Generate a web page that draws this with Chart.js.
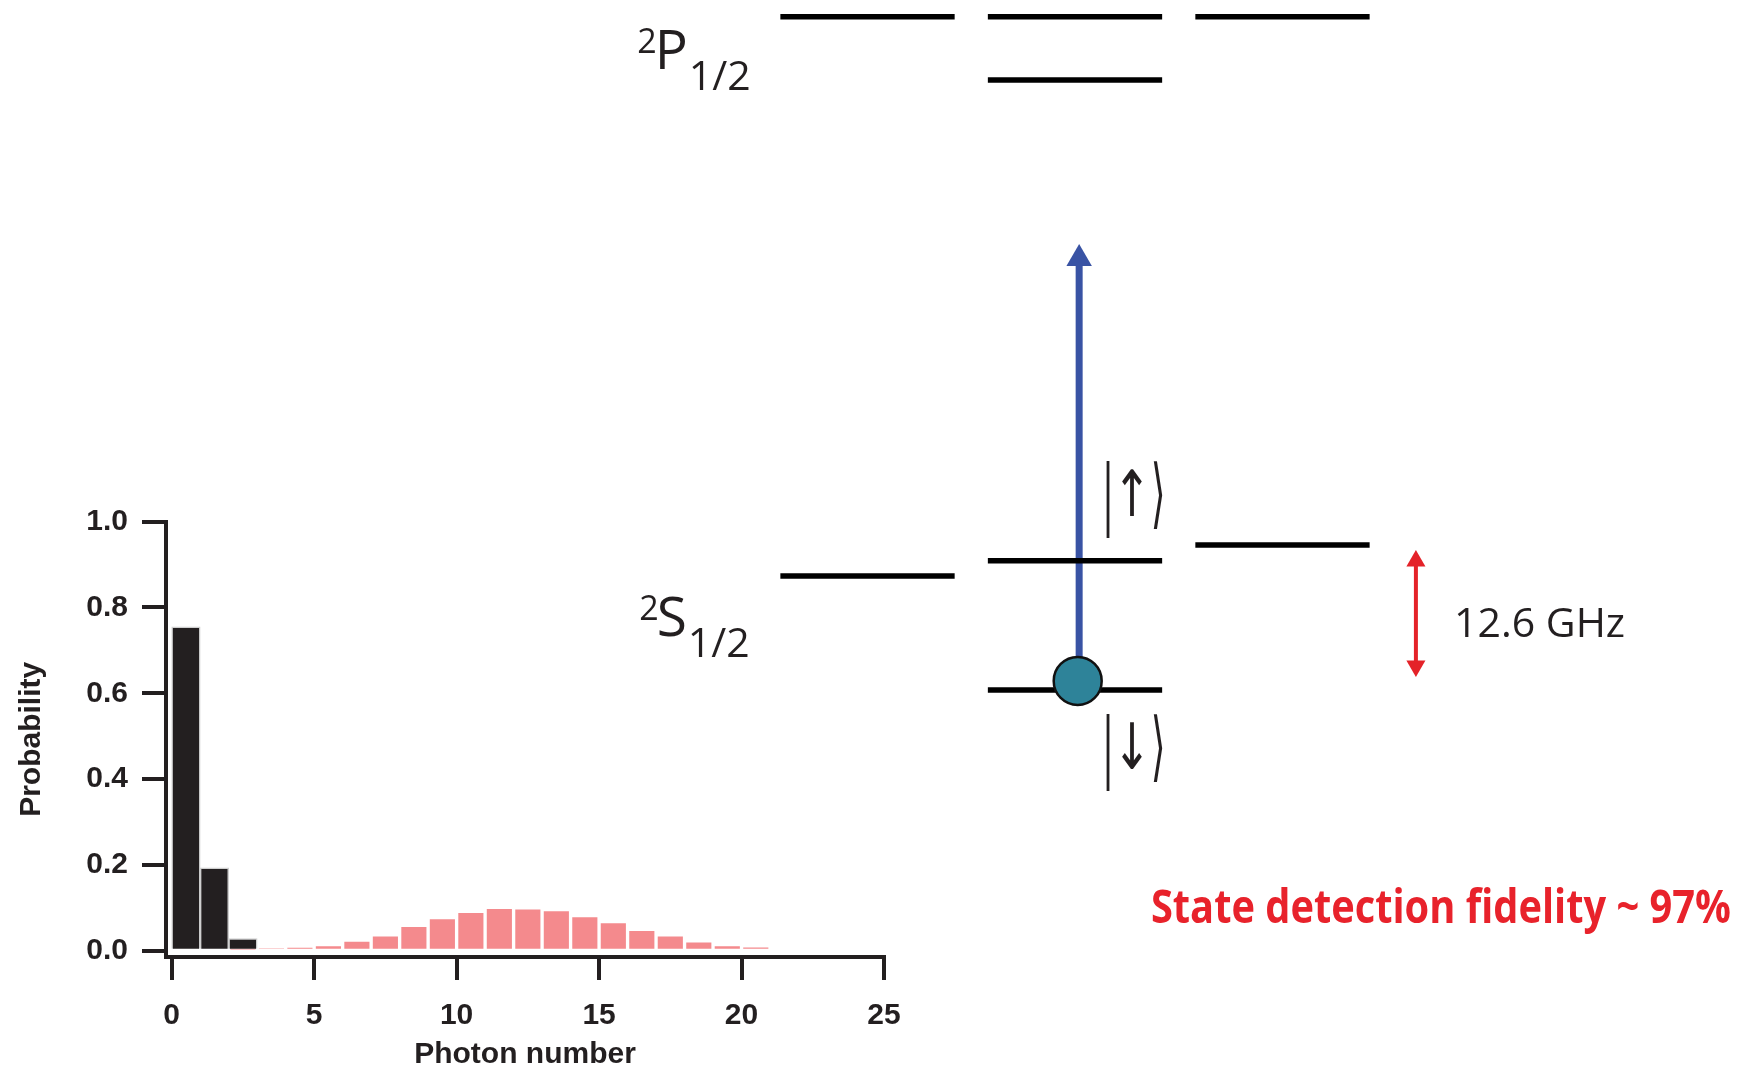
<!DOCTYPE html>
<html>
<head>
<meta charset="utf-8">
<script src="https://cdn.jsdelivr.net/npm/chart.js@4.4.1/dist/chart.umd.min.js"></script>
<style>
  html, body { margin: 0; padding: 0; background: #fff; overflow: hidden; }
  canvas { position: absolute; left: 0; top: 0; }
</style>
</head>
<body>
<canvas id="levels" width="1740" height="1070"></canvas>
<canvas id="histo" width="1740" height="1070"></canvas>
<script>
// Histogramme du nombre de photons (bins de largeur 1)
const darkBins = [0, 1, 2];
const darkProb = [0.755, 0.193, 0.028];
const brightBins = [2, 3, 4, 5, 6, 7, 8, 9, 10, 11, 12, 13, 14, 15, 16, 17, 18, 19, 20];
const brightProb = [0.002, 0.005, 0.008, 0.014, 0.025, 0.037, 0.059, 0.077, 0.092, 0.101,
                    0.100, 0.096, 0.082, 0.068, 0.050, 0.037, 0.023, 0.014, 0.009];
const xTicks = [0, 5, 10, 15, 20, 25];
const yTicks = [0, 0.2, 0.4, 0.6, 0.8, 1.0];

// Niveaux d'énergie (colonne des sous-niveaux, énergie en unités arbitraires)
const pCols = [-1, 0, 1, 0];
const pEnergy = [5.22, 5.22, 5.22, 4.729];
const sCols = [-1, 0, 1, 0];
const sEnergy = [0.884, 1.002, 1.124, 0];
const ionPos = { x: 0.013, y: 0.07 };
const pumpArrow = { x: 0.02, from: 0.07, to: 3.343 };
const splitArrow = { x: 1.643, from: 0.186, to: 1.0 };

const ink = '#231f20';
const axisFont = { family: 'Liberation Sans', size: 30, weight: 'bold' };

// Texte des termes, ex. ²S1/2
function termLabel(ctx, px, py, letter) {
    ctx.textAlign = 'left';
    ctx.textBaseline = 'alphabetic';
    ctx.font = '34px "Open Sans"';
    ctx.fillText('2', px, py - 16);
    let cx = px + ctx.measureText('2').width - 2;
    ctx.font = '55px "Open Sans"';
    ctx.fillText(letter, cx, py);
    cx += ctx.measureText(letter).width + 1;
    ctx.font = '41px "Open Sans"';
    ctx.fillText('1/2', cx, py + 21);
}

// |↑⟩ et |↓⟩ : chaque signe posé séparément
function ket(ctx, px, py, arrow) {
    const glyph = (ch, dx, size, sx) => {
        ctx.save();
        ctx.font = size + 'px "DejaVu Sans", "Noto Sans CJK SC"';
        ctx.textAlign = 'center';
        ctx.textBaseline = 'middle';
        ctx.translate(px + dx, py);
        ctx.scale(sx, 1);
        ctx.fillText(ch, 0, 0);
        ctx.restore();
    };
    glyph('|', 4, 76, 0.45);
    glyph(arrow, 28, 64, 0.72);
    glyph('\u27E9', 54, 76, 0.5);
}

const levelLabels = {
    id: 'levelLabels',
    afterDatasetsDraw(chart) {
        const { ctx, scales: { x, y } } = chart;
        ctx.save();
        ctx.fillStyle = ink;
        termLabel(ctx, x.getPixelForValue(-2.11), y.getPixelForValue(4.814), 'P');
        termLabel(ctx, x.getPixelForValue(-2.10), y.getPixelForValue(0.419), 'S');
        ket(ctx, x.getPixelForValue(0.14), y.getPixelForValue(1.481), '\u2191');
        ket(ctx, x.getPixelForValue(0.14), y.getPixelForValue(-0.481), '\u2193');

        ctx.textAlign = 'left';
        ctx.textBaseline = 'alphabetic';
        ctx.font = '41px "Open Sans"';
        ctx.fillText('12.6 GHz', x.getPixelForValue(1.827), y.getPixelForValue(0.411));

        // texte rouge, compressé pour tenir dans la largeur
        const left = x.getPixelForValue(0.366);
        const right = x.getPixelForValue(3.161);
        ctx.font = 'bold 46px "Open Sans"';
        ctx.fillStyle = '#e8222b';
        const txt = 'State detection fidelity ~ 97%';
        const sx = (right - left) / ctx.measureText(txt).width;
        ctx.translate(left, y.getPixelForValue(-1.806));
        ctx.scale(sx, 1);
        ctx.fillText(txt, 0, 0);
        ctx.restore();
    }
};

function levelLine(col, e) {
    return {
        type: 'line',
        data: [{ x: col - 0.42, y: e }, { x: col + 0.42, y: e }],
        showLine: true,
        borderColor: '#000',
        borderWidth: 5.5,
        borderCapStyle: 'butt',
        pointRadius: 0,
        order: 2
    };
}

const levelSets = [];
pCols.forEach((c, i) => levelSets.push(levelLine(c, pEnergy[i])));
sCols.forEach((c, i) => levelSets.push(levelLine(c, sEnergy[i])));

new Chart(document.getElementById('levels'), {
    type: 'scatter',
    data: {
        datasets: [
            {
                // ion
                data: [ionPos],
                pointRadius: 24,
                pointBackgroundColor: '#2e8399',
                pointBorderColor: '#111',
                pointBorderWidth: 2.5,
                order: 0
            },
            {
                // laser de détection
                type: 'line',
                data: [{ x: pumpArrow.x, y: pumpArrow.from }, { x: pumpArrow.x, y: pumpArrow.to }],
                showLine: true,
                borderColor: '#3953a4',
                borderWidth: 7,
                pointRadius: [0, 14.7],
                pointStyle: 'triangle',
                pointBackgroundColor: '#3953a4',
                pointBorderColor: '#3953a4',
                pointBorderWidth: 0,
                order: 3
            },
            {
                // séparation hyperfine
                type: 'line',
                data: [{ x: splitArrow.x, y: splitArrow.from }, { x: splitArrow.x, y: splitArrow.to }],
                showLine: true,
                borderColor: '#e42229',
                borderWidth: 4,
                pointRadius: 11,
                pointStyle: 'triangle',
                pointRotation: [180, 0],
                pointBackgroundColor: '#e42229',
                pointBorderColor: '#e42229',
                pointBorderWidth: 0,
                order: 1
            },
            ...levelSets
        ]
    },
    options: {
        responsive: false,
        animation: false,
        events: [],
        layout: { padding: 0, autoPadding: false },
        plugins: { legend: { display: false }, tooltip: { enabled: false } },
        scales: {
            x: { type: 'linear', display: false, min: -5.181, max: 3.205 },
            y: { type: 'linear', display: false, min: -2.946, max: 5.349 }
        }
    },
    plugins: [levelLabels]
});

new Chart(document.getElementById('histo'), {
    type: 'bar',
    data: {
        datasets: [
            {
                label: 'dark',
                data: darkBins.map((b, i) => ({ x: b + 0.5, y: darkProb[i] })),
                backgroundColor: ink,
                borderColor: '#cfcfcf',
                borderWidth: 1.5,
                grouped: false,
                barPercentage: 1,
                categoryPercentage: 1
            },
            {
                label: 'bright',
                data: brightBins.map((b, i) => ({ x: b + 0.5, y: brightProb[i] })),
                backgroundColor: '#f48a8d',
                borderColor: '#ffffff',
                borderWidth: 2,
                grouped: false,
                barPercentage: 1,
                categoryPercentage: 1
            }
        ]
    },
    options: {
        responsive: false,
        animation: false,
        events: [],
        layout: { padding: { left: 0, top: 521.7, right: 856, bottom: 0 }, autoPadding: false },
        plugins: { legend: { display: false }, tooltip: { enabled: false } },
        scales: {
            x: {
                type: 'linear',
                min: -0.2,
                max: 25,
                offset: false,
                afterFit: s => { s.height = 113; },
                afterBuildTicks: s => { s.ticks = xTicks.map(v => ({ value: v })); },
                grid: { offset: false, drawOnChartArea: false, drawTicks: true, tickLength: 23, tickWidth: 4, lineWidth: 4, tickColor: ink, color: ink },
                border: { display: true, width: 4, color: ink },
                ticks: { padding: 18, font: axisFont, color: ink, maxRotation: 0, autoSkip: false },
                title: { display: true, text: 'Photon number', font: axisFont, color: ink, padding: { top: 0, bottom: -3 } }
            },
            y: {
                type: 'linear',
                min: -0.0147,
                max: 1.0,
                afterFit: s => { s.width = 166; },
                afterBuildTicks: s => { s.ticks = yTicks.map(v => ({ value: v })); },
                grid: { drawOnChartArea: false, drawTicks: true, tickLength: 24, tickWidth: 4, lineWidth: 4, tickColor: ink, color: ink },
                border: { display: true, width: 4, color: ink },
                ticks: { padding: 14, font: axisFont, color: ink, callback: v => v.toFixed(1) },
                title: { display: true, text: 'Probability', font: axisFont, color: ink, padding: { top: 14, bottom: 0 } }
            }
        }
    }
});
</script>
</body>
</html>
